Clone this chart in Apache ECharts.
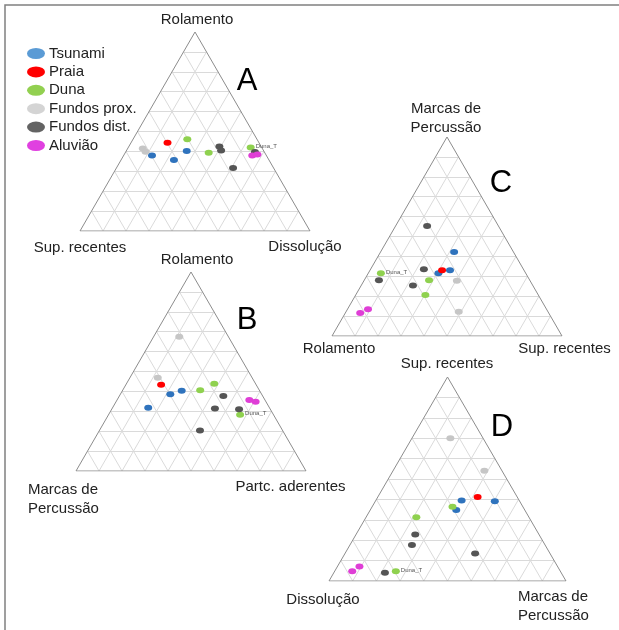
<!DOCTYPE html>
<html>
<head>
<meta charset="utf-8">
<script src="https://cdn.jsdelivr.net/npm/echarts@6/dist/echarts.min.js"></script>
<style>
  html, body { margin: 0; padding: 0; background: #fff; }
  #chart { width: 619px; height: 630px; }
</style>
</head>
<body>
<div id="chart"></div>
<script>
// Sample groups shown in every ternary panel
const groupNames = ['Tsunami', 'Praia', 'Duna', 'Fundos prox.', 'Fundos dist.', 'Aluvião'];
const pointColors = ['#2f73bd', '#ff0000', '#8fd14f', '#c6c6c6', '#555555', '#df3ed6'];
const legendColors = ['#5b9bd5', '#ff0000', '#92d050', '#d4d4d4', '#636363', '#e040e0'];

// Corner names of each panel: [top, bottom-left, bottom-right]
const cornersA = ['Rolamento', 'Sup. recentes', 'Dissolução'];
const cornersB = ['Rolamento', 'Marcas de\nPercussão', 'Partc. aderentes'];
const cornersC = ['Marcas de\nPercussão', 'Rolamento', 'Sup. recentes'];
const cornersD = ['Sup. recentes', 'Dissolução', 'Marcas de\nPercussão'];

// Compositions in %, ordered [top, bottom-left, bottom-right]
// Panel A: Rolamento / Sup. recentes / Dissolução
const tsunamiA = [[38.0, 49.7, 12.3], [35.7, 41.3, 23.0], [40.2, 33.5, 26.3]];
const praiaA = [[44.3, 39.8, 15.9]];
const dunaA = [[46.1, 30.3, 23.6], [39.3, 24.4, 36.3], [42.0, 4.8, 53.2]];
const fundosProxA = [[41.4, 52.0, 6.6], [39.8, 51.6, 8.6]];
const fundosDistA = [[42.4, 18.2, 39.4], [40.5, 18.4, 41.1], [31.7, 17.6, 50.7], [39.7, 4.1, 56.2]];
const aluviaoA = [[38.0, 6.1, 55.9], [38.5, 3.6, 57.9]];

// Panel B: Rolamento / Marcas de Percussão / Partc. aderentes
const tsunamiB = [[38.6, 39.7, 21.7], [40.3, 33.9, 25.8], [31.8, 52.7, 15.5]];
const praiaB = [[43.4, 41.3, 15.3]];
const dunaB = [[40.6, 25.7, 33.7], [43.8, 18.0, 38.2], [28.3, 14.5, 57.2]];
const fundosProxB = [[67.4, 21.4, 11.2], [46.9, 41.0, 12.1]];
const fundosDistB = [[37.7, 17.1, 45.2], [31.4, 23.9, 44.7], [31.0, 13.6, 55.4], [20.4, 35.9, 43.7]];
const aluviaoB = [[35.7, 6.8, 57.5], [34.8, 4.5, 60.7]];

// Panel C: Marcas de Percussão / Rolamento / Sup. recentes
const tsunamiC = [[42.2, 25.8, 32.0], [33.0, 32.2, 34.8], [31.5, 38.0, 30.5]];
const praiaC = [[33.1, 35.6, 31.3]];
const dunaC = [[31.5, 63.0, 5.5], [28.0, 43.8, 28.2], [20.6, 49.1, 30.3]];
const fundosProxC = [[27.8, 31.8, 40.4], [12.2, 38.8, 49.0]];
const fundosDistC = [[55.3, 31.0, 13.7], [33.5, 43.3, 23.2], [28.0, 65.6, 6.4], [25.4, 52.1, 22.5]];
const aluviaoC = [[11.5, 82.0, 6.5], [13.5, 77.6, 8.9]];

// Panel D: Sup. recentes / Dissolução / Marcas de Percussão
const tsunamiD = [[39.5, 24.3, 36.2], [39.1, 10.5, 50.4], [34.8, 28.9, 36.3]];
const praiaD = [[41.2, 16.7, 42.1]];
const dunaD = [[36.4, 29.7, 33.9], [31.3, 47.5, 21.2], [4.8, 69.4, 25.8]];
const fundosProxD = [[70.0, 13.8, 16.2], [54.1, 7.4, 38.5]];
const fundosDistD = [[22.8, 52.2, 25.0], [17.6, 56.2, 26.2], [13.5, 31.6, 54.9], [4.0, 74.4, 21.6]];
const aluviaoD = [[4.8, 87.8, 7.4], [7.1, 83.6, 9.3]];

// Which Duna sample is the labelled one in each panel
const dunaTIndex = [2, 2, 0, 2];
const dunaTText = 'Duna_T';
const panelLetters = ['A', 'B', 'C', 'D'];

const panelData = [
  [tsunamiA, praiaA, dunaA, fundosProxA, fundosDistA, aluviaoA],
  [tsunamiB, praiaB, dunaB, fundosProxB, fundosDistB, aluviaoB],
  [tsunamiC, praiaC, dunaC, fundosProxC, fundosDistC, aluviaoC],
  [tsunamiD, praiaD, dunaD, fundosProxD, fundosDistD, aluviaoD]
];
const panelCorners = [cornersA, cornersB, cornersC, cornersD];

// Layout of each triangle (pixel box of the cartesian grid) and its text
const layouts = [
  { left: 80, top: 32, width: 230, height: 199,
    letter: [247, 81],
    topLabel: [197, 19.5], leftLabel: [80, 247.5, 'center'], rightLabel: [305, 246.5, 'center'] },
  { left: 76, top: 272, width: 230, height: 199,
    letter: [247, 320],
    topLabel: [197, 260], leftLabel: [28, 499, 'left'], rightLabel: [290.5, 487, 'center'] },
  { left: 332, top: 137, width: 230, height: 199,
    letter: [501, 183],
    topLabel: [446, 118.5], leftLabel: [339, 349, 'center'], rightLabel: [564.5, 348.5, 'center'] },
  { left: 329, top: 377, width: 237, height: 204,
    letter: [502, 427],
    topLabel: [447, 363.5], leftLabel: [323, 600, 'center'], rightLabel: [518, 606.5, 'left'] }
];

const FONT = '"Liberation Sans", Arial, sans-serif';
const ELLIPSE = 'path://M0,50A50,50 0 1,1 100,50A50,50 0 1,1 0,50Z';

// Ternary composition -> cartesian position inside a unit triangle
function toXY(comp) {
  const s = comp[0] + comp[1] + comp[2];
  const a = comp[0] / s, c = comp[2] / s;
  return [c + a / 2, a];
}

// Triangular reference grid at every 10 %
function gridSegments() {
  const segs = [];
  for (let i = 1; i < 10; i++) {
    const f = i * 10, g = 100 - f;
    segs.push({ coords: [toXY([f, g, 0]), toXY([f, 0, g])] });
    segs.push({ coords: [toXY([0, g, f]), toXY([g, 0, f])] });
    segs.push({ coords: [toXY([0, f, g]), toXY([g, f, 0])] });
  }
  return segs;
}
function outline() {
  return [toXY([0, 100, 0]), toXY([0, 0, 100]), toXY([100, 0, 0]), toXY([0, 100, 0])];
}

const grids = [], xAxes = [], yAxes = [], series = [], graphics = [];

graphics.push({
  type: 'rect', z: -10, silent: true,
  shape: { x: 5, y: 5, width: 700, height: 700 },
  style: { fill: 'none', stroke: '#808080', lineWidth: 1.5 }
});

function textEl(text, x, y, align, size, color) {
  return {
    type: 'text', x: x, y: y, silent: true,
    style: {
      text: text, fill: color || '#222', font: size + 'px ' + FONT,
      fontSize: size, fontFamily: FONT,
      align: align, textAlign: align,
      verticalAlign: 'middle', textVerticalAlign: 'middle',
      lineHeight: 19
    }
  };
}

layouts.forEach((L, p) => {
  grids.push({ left: L.left, top: L.top, width: L.width, height: L.height, containLabel: false });
  xAxes.push({ type: 'value', gridIndex: p, min: 0, max: 1, show: false });
  yAxes.push({ type: 'value', gridIndex: p, min: 0, max: 1, show: false });

  series.push({
    type: 'lines', coordinateSystem: 'cartesian2d', xAxisIndex: p, yAxisIndex: p,
    silent: true, z: 1,
    lineStyle: { color: '#dadada', width: 1, opacity: 1 },
    data: gridSegments()
  });
  series.push({
    type: 'line', xAxisIndex: p, yAxisIndex: p, silent: true, z: 2,
    symbol: 'none', lineStyle: { color: '#8c8c8c', width: 1 },
    data: outline()
  });

  panelData[p].forEach((rows, g) => {
    series.push({
      type: 'scatter', name: groupNames[g], xAxisIndex: p, yAxisIndex: p, z: 5,
      symbol: ELLIPSE, symbolSize: [8, 6],
      itemStyle: { color: pointColors[g], opacity: 1 },
      emphasis: { disabled: true },
      data: rows.map((r, k) => {
        const item = { value: toXY(r) };
        if (g === 2 && k === dunaTIndex[p]) {
          item.label = {
            show: true, formatter: dunaTText, position: 'right', distance: 1,
            fontSize: 6, color: '#555', fontFamily: FONT, offset: [0, -1]
          };
        }
        return item;
      })
    });
  });

  const c = panelCorners[p];
  graphics.push(textEl(panelLetters[p], L.letter[0], L.letter[1], 'center', 31, '#000'));
  graphics.push(textEl(c[0], L.topLabel[0], L.topLabel[1], 'center', 15));
  graphics.push(textEl(c[1], L.leftLabel[0], L.leftLabel[1], L.leftLabel[2], 15));
  graphics.push(textEl(c[2], L.rightLabel[0], L.rightLabel[1], L.rightLabel[2], 15));
});

const chart = echarts.init(document.getElementById('chart'), null, { renderer: 'canvas' });
chart.setOption({
  animation: false,
  backgroundColor: '#fff',
  textStyle: { fontFamily: FONT },
  grid: grids,
  xAxis: xAxes,
  yAxis: yAxes,
  legend: {
    orient: 'vertical', left: 27, top: 46, padding: 0,
    itemWidth: 18, itemHeight: 11, itemGap: 3.4,
    icon: ELLIPSE, symbolKeepAspect: false, selectedMode: false,
    textStyle: { fontSize: 15, color: '#222', fontFamily: FONT, padding: [0, 0, 0, -1] },
    data: groupNames.map((n, i) => ({ name: n, itemStyle: { color: legendColors[i] } }))
  },
  series: series,
  graphic: graphics
});
</script>
</body>
</html>
